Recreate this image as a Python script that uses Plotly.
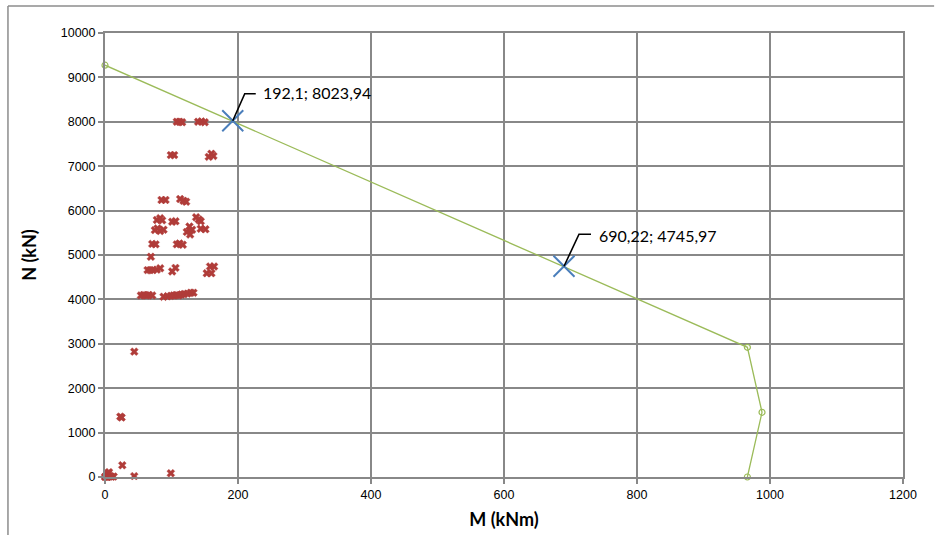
import plotly.graph_objects as go

# ---- data ----
# design loads (M, N) - red crosses
M_loads = [108, 112, 116, 140, 145, 150,
           99, 104, 156, 160, 163,
           85, 91, 113, 118, 122,
           78, 83, 86, 101, 106, 137, 141, 144,
           75, 79, 83, 88, 123, 127, 131, 128, 144, 151,
           71, 76, 108, 112, 117,
           69, 64, 68, 72, 78, 83, 101, 106, 153, 160, 158, 164,
           54, 58, 62, 66, 71, 88, 94, 99, 103, 107, 111, 115, 119, 124, 129, 133,
           44, 23, 25, 26, 44, 99,
           0, 1, 2, 3, 4, 5, 6, 8, 10, 13]
N_loads = [8000, 8000, 7990, 8000, 8010, 7990,
           7250, 7250, 7210, 7280, 7230,
           6240, 6240, 6260, 6220, 6200,
           5790, 5830, 5780, 5750, 5760, 5850, 5800, 5760,
           5560, 5600, 5540, 5570, 5520, 5640, 5570, 5460, 5590, 5580,
           5250, 5240, 5240, 5260, 5230,
           4960, 4660, 4660, 4660, 4670, 4700, 4630, 4710, 4590, 4590, 4740, 4740,
           4090, 4100, 4090, 4100, 4090, 4060, 4070, 4080, 4090, 4100, 4090, 4110, 4120, 4130, 4150, 4150,
           2823, 1360, 1340, 264, 20, 83,
           0, 20, 5, 40, 0, 90, 110, 20, 5, 10]

# interaction curve (green)
M_curve = [0, 966, 988, 966]
N_curve = [9275, 2921, 1457, 0]

# labelled points (blue)
M_pts = [192.1, 690.22]
N_pts = [8023.94, 4745.97]
pt_labels = ["192,1; 8023,94", "690,22; 4745,97"]

x_ticks = [0, 200, 400, 600, 800, 1000, 1200]
y_ticks = [0, 1000, 2000, 3000, 4000, 5000, 6000, 7000, 8000, 9000, 10000]

# ---- style ----
GRID = "#888888"
TICKFONT = dict(family="Liberation Sans, Arial, sans-serif", size=12.5, color="black")
leader_offsets = [(12, 27, 23), (15, 32, 27)]
text_offsets = [(30, 28), (35, 31)]

fig = go.Figure()
fig.add_trace(go.Scatter(x=M_curve, y=N_curve, mode="lines+markers",
                         line=dict(color="#9bbb59", width=1.3),
                         marker=dict(symbol="circle-open", size=6, color="#9bbb59",
                                     line=dict(width=1.2)),
                         showlegend=False, cliponaxis=False))
fig.add_trace(go.Scatter(x=M_loads, y=N_loads, mode="markers",
                         marker=dict(symbol="x", size=7, color="#b03c39",
                                     line=dict(width=0.4, color="#b03c39")),
                         showlegend=False, cliponaxis=False))
fig.add_trace(go.Scatter(x=M_pts, y=N_pts, mode="markers",
                         marker=dict(symbol="x-thin", size=21, color="#4a7ebb",
                                     line=dict(width=2, color="#4a7ebb")),
                         showlegend=False, cliponaxis=False))

shapes = []
annotations = []
for xv, yv, lab, (dx1, dy, dx2), (tx, ty) in zip(M_pts, N_pts, pt_labels,
                                                 leader_offsets, text_offsets):
    shapes.append(dict(type="path", xref="x", yref="y",
                       xsizemode="pixel", ysizemode="pixel",
                       xanchor=xv, yanchor=yv,
                       path=f"M0,0 L{dx1},{dy} L{dx2},{dy}",
                       line=dict(color="black", width=1.6)))
    annotations.append(dict(x=xv, y=yv, xref="x", yref="y", text=lab,
                            showarrow=False, xanchor="left", yanchor="middle",
                            xshift=tx - 2, yshift=ty,
                            font=dict(family="Lato", size=16, color="black")))

# outer chart frame (left and top edges)
shapes.append(dict(type="line", xref="paper", yref="paper",
                   x0=-0.1216, x1=-0.1216, y0=1.0608, y1=-0.2,
                   line=dict(color="#8c8c8c", width=1.5)))
shapes.append(dict(type="line", xref="paper", yref="paper",
                   x0=-0.1216, x1=1.039, y0=1.0608, y1=1.0608,
                   line=dict(color="#8c8c8c", width=1.5)))

fig.update_layout(
    width=935, height=535,
    margin=dict(l=105, r=32, t=33, b=58, autoexpand=False),
    paper_bgcolor="white", plot_bgcolor="white",
    shapes=shapes, annotations=annotations,
    xaxis=dict(range=[0, 1200], tickvals=x_ticks, ticktext=[str(v) for v in x_ticks],
               automargin=False,
               showgrid=True, gridcolor=GRID, gridwidth=2,
               showline=True, linecolor=GRID, linewidth=2, mirror=True,
               ticks="outside", ticklen=5, tickcolor=GRID, tickwidth=2,
               zeroline=False, tickfont=TICKFONT,
               title=dict(text="M (kNm)", standoff=12,
                          font=dict(family="Lato", size=18, color="black", weight="bold"))),
    yaxis=dict(range=[0, 10000], tickvals=y_ticks, ticktext=[str(v) for v in y_ticks],
               automargin=False,
               showgrid=True, gridcolor=GRID, gridwidth=2,
               showline=True, linecolor=GRID, linewidth=2, mirror=True,
               ticks="outside", ticklen=5, tickcolor=GRID, tickwidth=2,
               zeroline=False, tickfont=TICKFONT,
               title=dict(text="N (kN)", standoff=19,
                          font=dict(family="Lato", size=18, color="black", weight="bold"))),
)

fig.write_html("out.html", config={"displayModeBar": False},
               post_script="document.body.style.margin='0px';document.body.style.overflow='hidden';")
